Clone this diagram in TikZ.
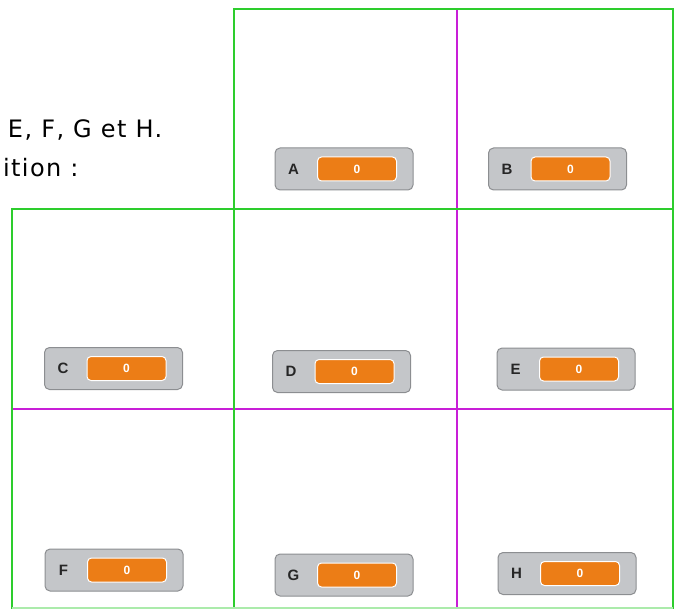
\documentclass[tikz,border=0pt]{standalone}
\usepackage{fontspec}
\setmainfont{DejaVu Sans}[LetterSpace=6]
\newfontfamily\monfont{Liberation Sans}
\usetikzlibrary{positioning}

\definecolor{gridgreen}{RGB}{45,205,45}
\definecolor{gridpink}{RGB}{200,30,215}
\definecolor{monfill}{RGB}{196,198,201}
\definecolor{mondraw}{RGB}{140,142,145}
\definecolor{valfill}{RGB}{236,125,22}

\tikzset{
	monitor/.style={draw=mondraw, fill=monfill, line width=1pt, rounded corners=5pt,
		minimum width=138pt, minimum height=42pt, inner sep=0pt},
	varname/.style={font=\monfont\bfseries\fontsize{15}{15}\selectfont, text=black!85, inner sep=0pt},
	varval/.style={draw=white, fill=valfill, line width=1pt, rounded corners=4pt,
		minimum width=79pt, minimum height=24pt, inner sep=0pt,
		font=\monfont\bfseries\fontsize{12}{12}\selectfont, text=white},
	consigne/.style={font=\fontsize{24}{24}\selectfont, inner sep=0pt, anchor=base west}
}

\begin{document}
\begin{tikzpicture}[x=1pt, y=-1pt, line width=2pt]
		\useasboundingbox (0,0) rectangle (676,609);

		% texte
		\node[consigne] (t1) at (7,138) {E, F, G et H.};
		\node[consigne] (t2) at (2,177) {ition :};

		% grille
		\draw[gridpink] (457,9) -- (457,609);
		\draw[gridpink] (12,409) -- (673,409);
		\draw[gridgreen] (234,609) -- (234,9) -- (673,9) -- (673,609);
		\draw[gridgreen] (12,609) -- (12,209) -- (673,209);
		\draw[gridgreen!40] (12,608) -- (673,608);

		% variables
		\node[monitor] (A) at (344,169) {};
		\node[varname] (A-name) at ([xshift=19pt]A.west) {A};
		\node[varval] (A-val) at ([xshift=13pt]A.center) {0};

		\node[monitor] (B) at (557.5,169) {};
		\node[varname] (B-name) at ([xshift=19pt]B.west) {B};
		\node[varval] (B-val) at ([xshift=13pt]B.center) {0};

		\node[monitor] (C) at (113.5,368.5) {};
		\node[varname] (C-name) at ([xshift=19pt]C.west) {C};
		\node[varval] (C-val) at ([xshift=13pt]C.center) {0};

		\node[monitor] (D) at (341.5,371.5) {};
		\node[varname] (D-name) at ([xshift=19pt]D.west) {D};
		\node[varval] (D-val) at ([xshift=13pt]D.center) {0};

		\node[monitor] (E) at (566,369) {};
		\node[varname] (E-name) at ([xshift=19pt]E.west) {E};
		\node[varval] (E-val) at ([xshift=13pt]E.center) {0};

		\node[monitor] (F) at (114,570) {};
		\node[varname] (F-name) at ([xshift=19pt]F.west) {F};
		\node[varval] (F-val) at ([xshift=13pt]F.center) {0};

		\node[monitor] (G) at (344,575) {};
		\node[varname] (G-name) at ([xshift=19pt]G.west) {G};
		\node[varval] (G-val) at ([xshift=13pt]G.center) {0};

		\node[monitor] (H) at (567,573.5) {};
		\node[varname] (H-name) at ([xshift=19pt]H.west) {H};
		\node[varval] (H-val) at ([xshift=13pt]H.center) {0};
	\end{tikzpicture}
\end{document}
